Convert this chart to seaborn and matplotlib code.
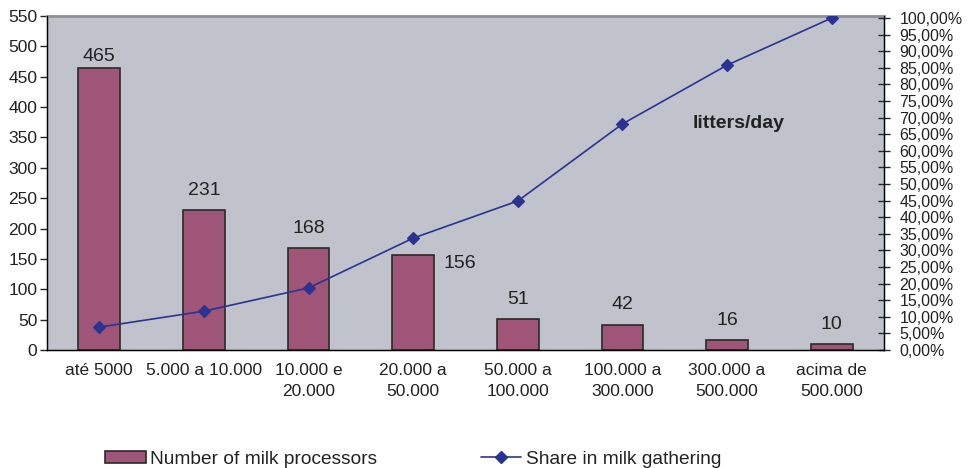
import matplotlib

matplotlib.use("Agg")
import matplotlib.pyplot as plt
import matplotlib.ticker as mticker
import numpy as np
import pandas as pd
import seaborn as sns
from matplotlib.lines import Line2D
from matplotlib.patches import Patch

# data
categories = [
    "até 5000",
    "5.000 a 10.000",
    "10.000 e\n20.000",
    "20.000 a\n50.000",
    "50.000 a\n100.000",
    "100.000 a\n300.000",
    "300.000 a\n500.000",
    "acima de\n500.000",
]
processors = [465, 231, 168, 156, 51, 42, 16, 10]
share_pct = [6.9, 11.7, 18.7, 33.7, 44.9, 68.1, 85.8, 100.0]

BAR_COLOR = "#9E5577"
LINE_COLOR = "#2B3391"
BG_COLOR = "#C0C3CB"
TEXT_COLOR = "#222222"

sns.set_style("white")
plt.rcParams["font.family"] = ["Liberation Sans", "DejaVu Sans"]

df = pd.DataFrame({"cat": categories, "n": processors, "share": share_pct})

fig = plt.figure(figsize=(9.75, 4.68), dpi=100)
ax = fig.add_axes([0.0482, 0.2521, 0.8585, 0.7137])
ax.set_facecolor(BG_COLOR)

sns.barplot(
    data=df, x="cat", y="n", ax=ax, color=BAR_COLOR, width=0.4,
    edgecolor="#2A2A2A", linewidth=1.2, saturation=1,
)
ax.set_ylim(0, 550)
ax.set_xlim(-0.5, len(categories) - 0.5)
ax.set_xlabel("")
ax.set_ylabel("")
ax.yaxis.set_major_locator(mticker.MultipleLocator(50))
ax.tick_params(axis="y", direction="out", length=5, width=1, labelsize=12.5,
               pad=2, labelcolor=TEXT_COLOR)
ax.set_xticks(np.arange(len(categories)))
ax.set_xticklabels(categories, fontsize=12.5, linespacing=1.5, color=TEXT_COLOR)
ax.set_xticks(np.arange(-0.5, len(categories)), minor=True)
ax.tick_params(axis="x", which="major", length=0, pad=9)
ax.tick_params(axis="x", which="minor", direction="out", length=5, width=1)

for sp in ["left", "bottom", "right"]:
    ax.spines[sp].set_color("black")
    ax.spines[sp].set_linewidth(1.0)
ax.spines["top"].set_color("#8E9198")
ax.spines["top"].set_linewidth(2)

# value labels
for i, v in enumerate(processors):
    if i == 3:
        ax.annotate(str(v), xy=(i + 0.2, v), xytext=(7, -6), textcoords="offset points",
                    ha="left", va="center", fontsize=14, color=TEXT_COLOR)
    else:
        dy = 2 if i == 0 else 8
        ax.annotate(str(v), xy=(i, v), xytext=(0, dy), textcoords="offset points",
                    ha="center", va="bottom", fontsize=14, color=TEXT_COLOR)

# secondary axis with share line
ax2 = ax.twinx()
sns.pointplot(
    data=df, x="cat", y="share", ax=ax2, color=LINE_COLOR, markers="D",
    markersize=6, linewidth=1.2,
)
ax2.set_xlim(-0.5, len(categories) - 0.5)
ax2.set_ylim(0, 100 * 334 / 332)
ax2.set_ylabel("")
ax2.set_xlabel("")
ax2.yaxis.set_major_locator(mticker.MultipleLocator(5))
ax2.yaxis.set_major_formatter(
    mticker.FuncFormatter(lambda v, p: f"{v:.2f}%".replace(".", ","))
)
ax2.tick_params(axis="y", direction="inout", length=8, width=1, labelsize=11.5,
                pad=7, labelcolor=TEXT_COLOR)
for sp in ["left", "bottom", "right"]:
    ax2.spines[sp].set_color("black")
ax2.spines["top"].set_visible(False)

ax.text(0.826, 0.677, "litters/day", transform=ax.transAxes, ha="center", va="center",
        fontsize=14, fontweight="bold", color=TEXT_COLOR)

handles = [
    Patch(facecolor=BAR_COLOR, edgecolor="#2A2A2A", linewidth=1.2),
    Line2D([0], [0], color=LINE_COLOR, lw=1.2, marker="D", markersize=6),
]
fig.legend(
    handles, ["Number of milk processors", "Share in milk gathering"],
    loc="center", bbox_to_anchor=(0.424, 0.019), ncol=2, frameon=False,
    fontsize=13.8, handlelength=2.1, handleheight=0.65, handletextpad=0.25,
    columnspacing=5.4, labelcolor=TEXT_COLOR,
)

fig.savefig("out.png", dpi=100)
